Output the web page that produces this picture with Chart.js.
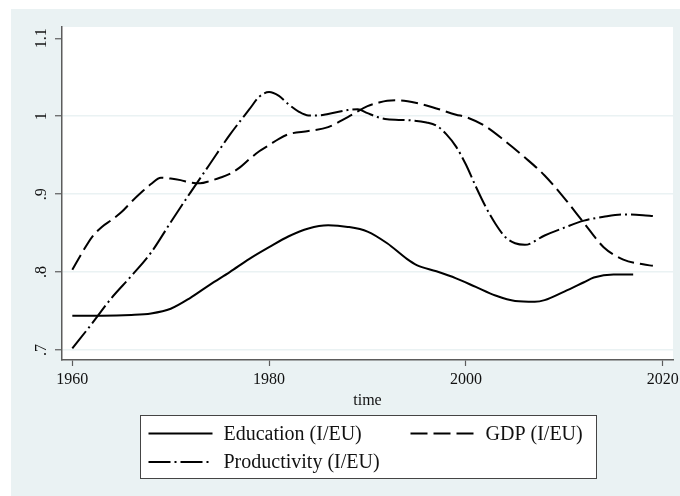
<!DOCTYPE html>
<html>
<head>
<meta charset="utf-8">
<script src="https://cdn.jsdelivr.net/npm/chart.js@4.4.1/dist/chart.umd.min.js"></script>
<style>
  html, body { margin: 0; padding: 0; background: #ffffff; }
  #wrap { width: 680px; height: 496px; }
</style>
</head>
<body>
<div id="wrap"><canvas id="c" width="680" height="496"></canvas></div>
<script>
// Relative indicators, Italy vs EU
const eduYears  = [1960, 1963, 1966, 1968, 1970, 1972, 1974, 1976, 1978, 1980, 1982, 1984, 1986, 1988, 1990, 1992, 1994, 1995, 1997, 1999, 2001, 2003, 2005, 2007, 2008, 2010, 2012, 2013, 2015, 2017];
const eduValues = [.744, .744, .745, .747, .753, .767, .784, .800, .817, .832, .846, .856, .860, .858, .852, .837, .817, .809, .801, .792, .781, .770, .763, .762, .764, .775, .787, .793, .797, .797];

const gdpYears  = [1960, 1961, 1962, 1963, 1964, 1965, 1966, 1967, 1968, 1969, 1970, 1971, 1972, 1973, 1974, 1975, 1976, 1977, 1978, 1979, 1980, 1981, 1982, 1984, 1986, 1988, 1990, 1991, 1992, 1993, 1995, 1997, 1999, 2000, 2002, 2004, 2006, 2008, 2010, 2012, 2014, 2016, 2018, 2019];
const gdpValues = [.803, .825, .845, .858, .867, .877, .890, .902, .913, .921, .920, .918, .915, .914, .917, .921, .926, .934, .945, .955, .963, .971, .977, .981, .986, .999, 1.013, 1.017, 1.020, 1.0205, 1.017, 1.010, 1.002, .999, .987, .968, .947, .924, .895, .863, .832, .816, .810, .808];

const prodYears  = [1960, 1962, 1964, 1966, 1968, 1970, 1972, 1974, 1976, 1978, 1979, 1980, 1981, 1982, 1983, 1984, 1985, 1986, 1988, 1989, 1990, 1991, 1992, 1994, 1996, 1997, 1998, 1999, 2000, 2001, 2002, 2003, 2004, 2005, 2006, 2008, 2010, 2012, 2014, 2016, 2018, 2019];
const prodValues = [.702, .734, .767, .795, .825, .864, .902, .939, .976, 1.009, 1.025, 1.031, 1.026, 1.015, 1.006, 1.001, 1.001, 1.003, 1.008, 1.009, 1.004, .999, .996, .995, .992, .988, .977, .961, .938, .910, .884, .862, .845, .837, .835, .847, .857, .866, .871, .874, .873, .872];

const xTicks = [1960, 1980, 2000, 2020];
const yTicks = [0.7, 0.8, 0.9, 1.0, 1.1];
const yTickLabels = ['.7', '.8', '.9', '1', '1.1'];

const seriesNames = ['Education (I/EU)', 'GDP (I/EU)', 'Productivity (I/EU)'];

const toPoints = (xs, ys) => xs.map((x, i) => ({ x: x, y: ys[i] }));

const SERIF = '"Liberation Serif", "DejaVu Serif", serif';
const AXIS_GREY = '#5c5c5c';
const PANEL_BG = '#eaf2f3';

// Painted backdrop: outer panel plus white plot region
const backdrop = {
  id: 'backdrop',
  beforeDraw(chart) {
    const { ctx, chartArea: a } = chart;
    ctx.save();
    ctx.fillStyle = '#ffffff';
    ctx.fillRect(0, 0, chart.width, chart.height);
    ctx.fillStyle = PANEL_BG;
    ctx.fillRect(11, 9, chart.width - 11, chart.height - 9);
    ctx.fillStyle = '#ffffff';
    ctx.fillRect(a.left, a.top, a.right - a.left, a.bottom - a.top);
    ctx.restore();
  }
};

// Boxed two-column legend under the axis title
const boxedLegend = {
  id: 'boxedLegend',
  afterDraw(chart) {
    const { ctx, chartArea: a } = chart;
    const w = 456, h = 63;
    const bx = Math.round((a.left + a.right) / 2 - w / 2) + 0.5;
    const by = 415.5;
    ctx.save();
    ctx.fillStyle = '#ffffff';
    ctx.fillRect(bx, by, w, h);
    ctx.strokeStyle = '#444444';
    ctx.lineWidth = 1;
    ctx.strokeRect(bx, by, w, h);

    const slots = [
      { x: bx + 8, y: by + 18 },
      { x: bx + 270, y: by + 18 },
      { x: bx + 8, y: by + 46.5 }
    ];
    ctx.font = '20px ' + SERIF;
    ctx.textBaseline = 'middle';
    ctx.textAlign = 'left';
    chart.data.datasets.forEach((ds, i) => {
      const s = slots[i];
      ctx.beginPath();
      ctx.setLineDash(ds.borderDash || []);
      ctx.lineWidth = ds.borderWidth;
      ctx.strokeStyle = ds.borderColor;
      ctx.moveTo(s.x, s.y);
      ctx.lineTo(s.x + 64, s.y);
      ctx.stroke();
      ctx.setLineDash([]);
      ctx.fillStyle = '#111111';
      ctx.fillText(ds.label, s.x + 75, s.y + 1);
    });
    ctx.restore();
  }
};

const lineStyle = {
  borderColor: '#000000',
  borderWidth: 2,
  pointRadius: 0,
  fill: false,
  cubicInterpolationMode: 'monotone'
};

new Chart(document.getElementById('c'), {
  type: 'line',
  data: {
    datasets: [
      Object.assign({ label: seriesNames[0], data: toPoints(eduYears, eduValues), borderDash: [] }, lineStyle),
      Object.assign({ label: seriesNames[1], data: toPoints(gdpYears, gdpValues), borderDash: [17, 6] }, lineStyle),
      Object.assign({ label: seriesNames[2], data: toPoints(prodYears, prodValues), borderDash: [22, 4, 2, 4] }, lineStyle)
    ]
  },
  options: {
    responsive: false,
    animation: false,
    devicePixelRatio: 1,
    layout: { padding: { left: 0, top: 27, right: 7, bottom: 86 } },
    plugins: {
      legend: { display: false },
      tooltip: { enabled: false }
    },
    scales: {
      x: {
        type: 'linear',
        min: 1958.953,
        max: 2021.047,
        afterBuildTicks(scale) { scale.ticks = xTicks.map(v => ({ value: v })); },
        afterFit(scale) {
          scale.height = 50;
          scale.paddingLeft = 0;
          scale.paddingRight = 0;
        },
        border: { display: true, color: AXIS_GREY, width: 1.5 },
        grid: {
          drawOnChartArea: false,
          drawTicks: true,
          tickLength: 6,
          tickColor: AXIS_GREY,
          tickWidth: 1.2
        },
        ticks: {
          autoSkip: false,
          maxRotation: 0,
          padding: 4,
          color: '#111111',
          font: { family: SERIF, size: 16 },
          callback: (v) => String(v)
        },
        title: {
          display: true,
          text: 'time',
          color: '#111111',
          font: { family: SERIF, size: 16 },
          padding: { top: 0, bottom: 0 }
        }
      },
      y: {
        type: 'linear',
        min: 0.6872,
        max: 1.1145,
        afterBuildTicks(scale) { scale.ticks = yTicks.map(v => ({ value: v })); },
        afterFit(scale) {
          scale.width = 62;
          scale.paddingTop = 0;
          scale.paddingBottom = 0;
        },
        border: { display: true, color: AXIS_GREY, width: 1.5 },
        grid: {
          drawOnChartArea: true,
          drawTicks: true,
          tickLength: 7,
          tickColor: AXIS_GREY,
          tickWidth: 1.2,
          lineWidth: 1.5,
          color: (c) => (c.tick && c.tick.value > 1.05 ? 'rgba(0,0,0,0)' : PANEL_BG)
        },
        ticks: {
          autoSkip: false,
          minRotation: 90,
          maxRotation: 90,
          crossAlign: 'center',
          padding: 3,
          color: '#111111',
          font: { family: SERIF, size: 16 },
          callback: (v) => {
            const i = yTicks.findIndex(t => Math.abs(t - v) < 1e-9);
            return i >= 0 ? yTickLabels[i] : '';
          }
        }
      }
    }
  },
  plugins: [backdrop, boxedLegend]
});
</script>
</body>
</html>
